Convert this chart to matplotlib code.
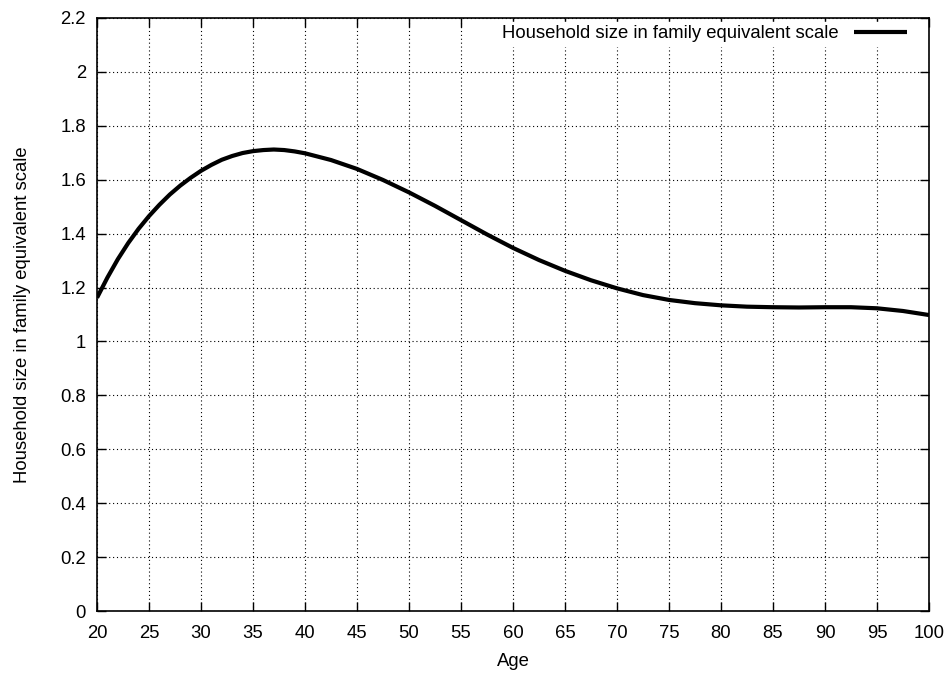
import numpy as np
import matplotlib.pyplot as plt
from matplotlib.ticker import FuncFormatter

plt.rcParams['font.family'] = ['Liberation Sans', 'DejaVu Sans']

# Values
age = [20, 21, 22, 23, 24, 25, 26, 27, 28, 29, 30, 31, 32, 33, 34, 35, 36, 37,
       38, 39, 40, 42.5, 45, 47.5, 50, 52.5, 55, 57.5, 60, 62.5, 65, 67.5, 70,
       72.5, 75, 77.5, 80, 82.5, 85, 87.5, 90, 92.5, 95, 97.5, 100]
household_size = [1.162, 1.237, 1.305, 1.365, 1.418, 1.465, 1.507, 1.545, 1.578, 1.607,
                  1.633, 1.655, 1.674, 1.688, 1.699, 1.706, 1.710, 1.712, 1.710, 1.705,
                  1.698, 1.673, 1.640, 1.599, 1.553, 1.503, 1.450, 1.397, 1.347, 1.302,
                  1.262, 1.227, 1.197, 1.172, 1.154, 1.142, 1.134, 1.129, 1.127, 1.126,
                  1.127, 1.127, 1.123, 1.113, 1.098]

x_ticks = np.arange(20, 101, 5)
y_ticks = np.arange(0, 2.21, 0.2)

fig = plt.figure(figsize=(9.53, 6.73), dpi=100)
ax = fig.add_axes([0.1018, 0.0921, 0.873, 0.8812])

ax.plot(age, household_size, color='black', lw=3,
        label='Household size in family equivalent scale',
        solid_capstyle='butt', solid_joinstyle='round', zorder=3)

ax.set_xlim(20, 100)
ax.set_ylim(0, 2.2)
ax.set_xticks(x_ticks)
ax.set_yticks(y_ticks)
ax.yaxis.set_major_formatter(FuncFormatter(lambda v, p: '%g' % round(v, 1)))
ax.tick_params(direction='in', length=6.5, width=1, top=True, right=True,
               labelsize=13.3, pad=8, color='black')
ax.tick_params(axis='x', pad=10)
ax.grid(True, color='black', linestyle=(0, (1, 2.5)), linewidth=0.8)
for s in ax.spines.values():
    s.set_linewidth(1.2)

ax.set_xlabel('Age', fontsize=13.3, labelpad=8)
ax.set_ylabel('Household size in family equivalent scale', fontsize=13.3, labelpad=21)

leg = ax.legend(loc='upper right', bbox_to_anchor=(0.983, 1.0), markerfirst=False,
                frameon=True, fontsize=13.3, handlelength=2.9, handletextpad=0.8,
                borderpad=0.2, borderaxespad=0.2, fancybox=False)
leg.get_frame().set_edgecolor('white')
leg.get_frame().set_facecolor('white')
leg.get_frame().set_alpha(1)

fig.savefig('out.png', dpi=100)
